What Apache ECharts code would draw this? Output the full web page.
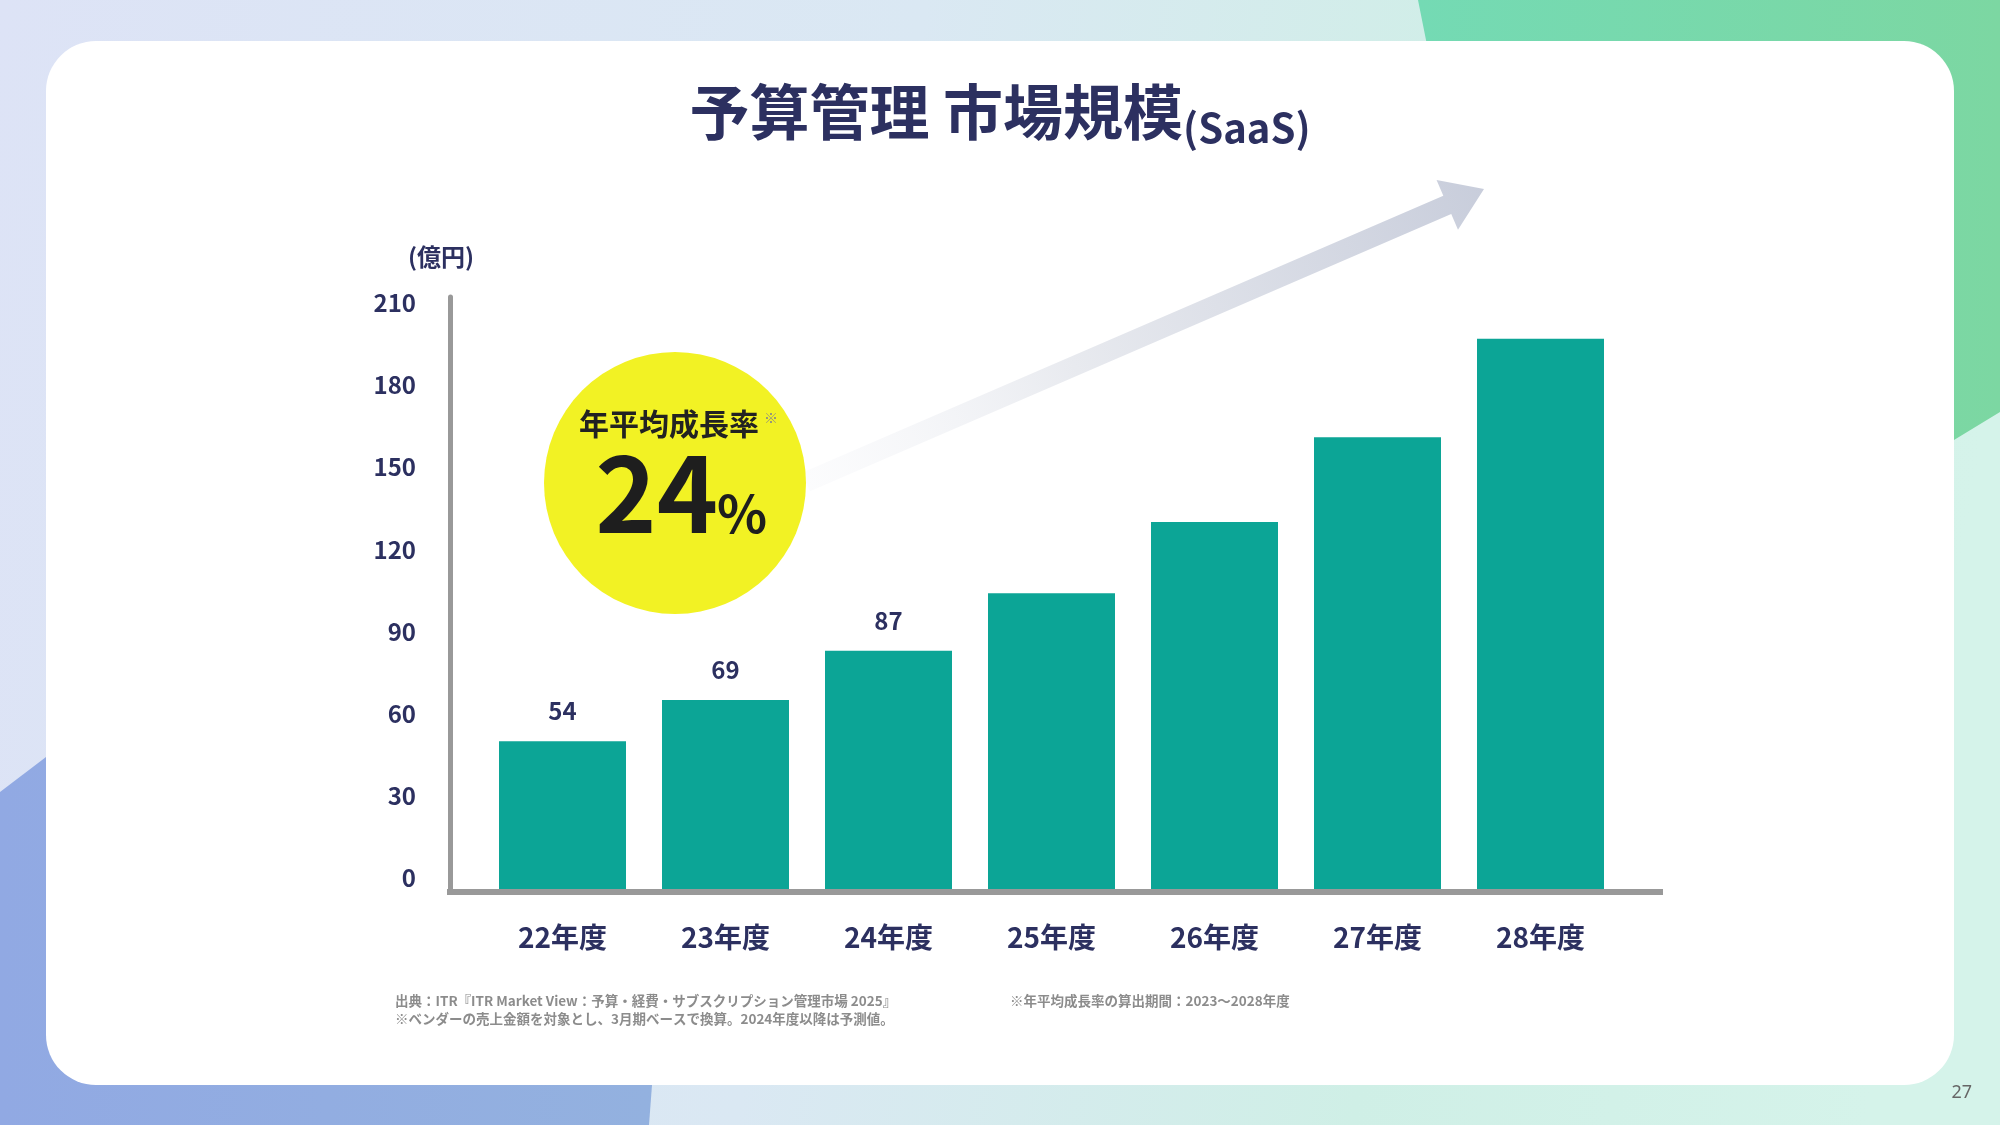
<!DOCTYPE html>
<html lang="ja">
<head>
<meta charset="utf-8">
<title>予算管理 市場規模(SaaS)</title>
<script src="https://cdn.jsdelivr.net/npm/echarts@6/dist/echarts.min.js"></script>
<style>
  html, body { margin: 0; padding: 0; }
  #chart { width: 2000px; height: 1125px; }
</style>
</head>
<body>
<div id="chart"></div>
<script>
// Data
const years = ["22年度", "23年度", "24年度", "25年度", "26年度", "27年度", "28年度"];
const marketSize = [54, 69, 87, 108, 134, 165, 201];
const showValue = [true, true, true, false, false, false, false];
const yMin = 0;
const yMax = 210;
const yStep = 30;

const titleMain = "予算管理 市場規模";
const titleSub = "(SaaS)";
const unitLabel = "(億円)";
const cagrLabel = "年平均成長率";
const cagrValue = "24";
const notes = [
  "出典：ITR『ITR Market View：予算・経費・サブスクリプション管理市場 2025』",
  "※ベンダーの売上金額を対象とし、3月期ベースで換算。2024年度以降は予測値。",
];
const periodNote = "※年平均成長率の算出期間：2023～2028年度";
const pageNo = "27";

const FONT = "'Noto Sans CJK JP', 'Noto Sans', sans-serif";
const NAVY = "#2c3060";
const TEAL = "#0ca596";
const AXIS_GRAY = "#999999";

const chart = echarts.init(document.getElementById("chart"));

// growth arrow outline
function arrowPoints(x1, y1, x2, y2, shaft, headLen, headW) {
  const dx = x2 - x1, dy = y2 - y1, len = Math.hypot(dx, dy);
  const ux = dx / len, uy = dy / len, nx = -uy, ny = ux;
  const bx = x2 - ux * headLen, by = y2 - uy * headLen;
  return [
    [x1 + nx * shaft / 2, y1 + ny * shaft / 2],
    [bx + nx * shaft / 2, by + ny * shaft / 2],
    [bx + nx * headW / 2, by + ny * headW / 2],
    [x2, y2],
    [bx - nx * headW / 2, by - ny * headW / 2],
    [bx - nx * shaft / 2, by - ny * shaft / 2],
    [x1 - nx * shaft / 2, y1 - ny * shaft / 2],
  ];
}

const option = {
  backgroundColor: "transparent",
  animation: false,
  title: {
    text: `{a|${titleMain}}{b|${titleSub}}`,
    left: "center",
    top: 71,
    textStyle: {
      rich: {
        a: { fontFamily: FONT, fontSize: 60, fontWeight: "bold", color: NAVY, lineHeight: 72 },
        b: { fontFamily: FONT, fontSize: 40, fontWeight: "bold", color: NAVY, lineHeight: 70, verticalAlign: "bottom" },
      },
    },
  },
  grid: [
    // frame with the visible axis lines
    { left: 450, top: 297, width: 1210, height: 595 },
    // bars
    { left: 481, top: 314, width: 1141, height: 575 },
  ],
  xAxis: [
    {
      gridIndex: 0,
      type: "value",
      min: 0,
      max: 1,
      axisLine: { show: true, lineStyle: { color: AXIS_GRAY, width: 6, cap: "square" } },
      axisTick: { show: false },
      axisLabel: { show: false },
      splitLine: { show: false },
    },
    {
      gridIndex: 1,
      type: "category",
      data: years,
      axisLine: { show: false },
      axisTick: { show: false },
      axisLabel: {
        margin: 34,
        fontFamily: FONT,
        fontSize: 28,
        fontWeight: "bold",
        color: NAVY,
      },
    },
  ],
  yAxis: [
    {
      gridIndex: 0,
      type: "value",
      min: 0,
      max: 1,
      name: unitLabel,
      nameLocation: "end",
      nameGap: 28,
      nameTextStyle: {
        fontFamily: FONT,
        fontSize: 24,
        fontWeight: "bold",
        color: NAVY,
        padding: [0, 18, 0, 0],
      },
      axisLine: { show: true, lineStyle: { color: AXIS_GRAY, width: 5 } },
      axisTick: { show: false },
      axisLabel: { show: false },
      splitLine: { show: false },
    },
    {
      gridIndex: 1,
      type: "value",
      min: yMin,
      max: yMax,
      interval: yStep,
      axisLine: { show: false },
      axisTick: { show: false },
      splitLine: { show: false },
      axisLabel: {
        margin: 65,
        fontFamily: FONT,
        fontSize: 24,
        fontWeight: "bold",
        color: NAVY,
        verticalAlign: "bottom",
        lineHeight: 22,
      },
    },
  ],
  series: [
    {
      type: "bar",
      xAxisIndex: 1,
      yAxisIndex: 1,
      barWidth: 127,
      itemStyle: { color: TEAL },
      data: marketSize.map((v, i) => ({
        value: v,
        label: { show: showValue[i] },
      })),
      label: {
        position: "top",
        distance: 18,
        fontFamily: FONT,
        fontSize: 24,
        fontWeight: "bold",
        color: NAVY,
      },
    },
  ],
  graphic: [
    // page background
    {
      type: "rect",
      z: -20,
      shape: { x: 0, y: 0, width: 2000, height: 1125 },
      style: {
        fill: new echarts.graphic.LinearGradient(0, 0, 1, 0.3, [
          { offset: 0, color: "#dde3f6" },
          { offset: 0.45, color: "#dae8f3" },
          { offset: 0.75, color: "#cfefe6" },
          { offset: 1, color: "#d5f3ea" },
        ]),
      },
    },
    {
      type: "polygon",
      z: -19,
      shape: { points: [[1418, 0], [2000, 0], [2000, 412], [1954, 440], [1900, 400], [1430, 60]] },
      style: {
        fill: new echarts.graphic.LinearGradient(0, 0, 1, 0, [
          { offset: 0, color: "#74dab4" },
          { offset: 1, color: "#7cd7a2" },
        ]),
      },
    },
    {
      type: "polygon",
      z: -19,
      shape: { points: [[0, 792], [46, 757], [300, 640], [640, 640], [652, 1085], [649, 1125], [0, 1125]] },
      style: {
        fill: new echarts.graphic.LinearGradient(0, 0, 1, 0, [
          { offset: 0, color: "#91a9e3" },
          { offset: 1, color: "#93b1df" },
        ]),
      },
    },
    // white card
    {
      type: "rect",
      z: -18,
      shape: { x: 46, y: 41, width: 1908, height: 1044, r: 50 },
      style: { fill: "#ffffff" },
    },
    // growth arrow
    {
      type: "polygon",
      z: 5,
      shape: { points: arrowPoints(806, 482, 1484, 189, 20, 40, 54) },
      style: {
        fill: new echarts.graphic.LinearGradient(0, 1, 1, 0, [
          { offset: 0, color: "rgba(245,246,249,0.3)" },
          { offset: 0.4, color: "#e8eaef" },
          { offset: 1, color: "#c8cddb" },
        ]),
      },
    },
    // CAGR badge
    {
      type: "circle",
      z: 6,
      shape: { cx: 675, cy: 483, r: 131 },
      style: { fill: "#f2f224" },
    },
    {
      type: "text",
      z: 7,
      style: {
        x: 669, y: 424, text: cagrLabel, align: "center", verticalAlign: "middle",
        fontFamily: FONT, fontSize: 30, fontWeight: "bold", fill: "#222222",
      },
    },
    {
      type: "text",
      z: 7,
      style: {
        x: 764, y: 418, text: "※", align: "left", verticalAlign: "middle",
        fontFamily: FONT, fontSize: 14, fill: "#888888",
      },
    },
    {
      type: "text",
      z: 7,
      style: {
        x: 718, y: 493, text: cagrValue, align: "right", verticalAlign: "middle",
        fontFamily: FONT, fontSize: 104, fontWeight: "bold", fill: "#1e1e1e",
      },
    },
    {
      type: "text",
      z: 7,
      style: {
        x: 717, y: 513, text: "%", align: "left", verticalAlign: "middle",
        fontFamily: FONT, fontSize: 52, fontWeight: "bold", fill: "#1e1e1e",
      },
    },
    // footnotes
    {
      type: "text",
      z: 7,
      style: {
        x: 395, y: 1001, text: notes[0], align: "left", verticalAlign: "middle",
        fontFamily: FONT, fontSize: 13.5, fontWeight: "bold", fill: "#8c8c8c",
      },
    },
    {
      type: "text",
      z: 7,
      style: {
        x: 395, y: 1019, text: notes[1], align: "left", verticalAlign: "middle",
        fontFamily: FONT, fontSize: 13.5, fontWeight: "bold", fill: "#8c8c8c",
      },
    },
    {
      type: "text",
      z: 7,
      style: {
        x: 1010, y: 1001, text: periodNote, align: "left", verticalAlign: "middle",
        fontFamily: FONT, fontSize: 13.5, fontWeight: "bold", fill: "#8c8c8c",
      },
    },
    {
      type: "text",
      z: 7,
      style: {
        x: 1972, y: 1093, text: pageNo, align: "right", verticalAlign: "middle",
        fontFamily: "'Noto Sans', sans-serif", fontSize: 18, fill: "#666666",
      },
    },
  ],
};

chart.setOption(option);
</script>
</body>
</html>
